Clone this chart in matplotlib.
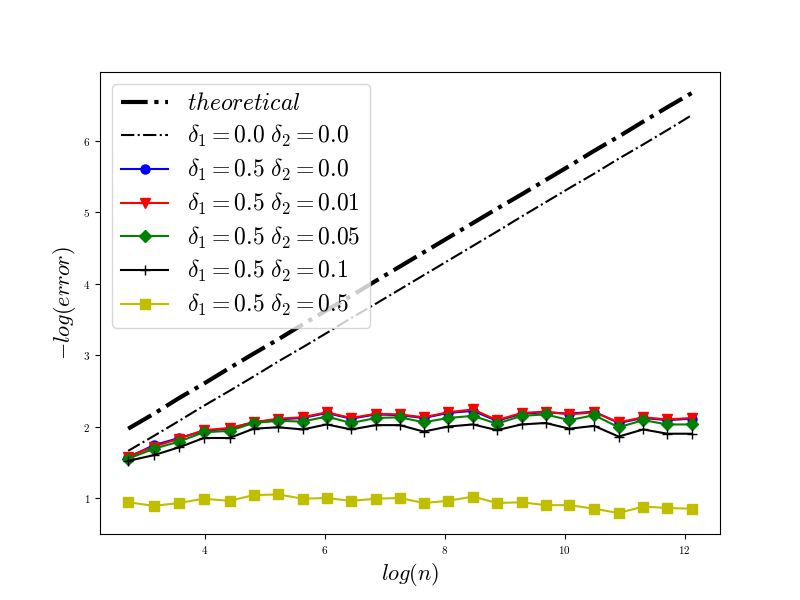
import numpy as np
import matplotlib
matplotlib.use('Agg')
import matplotlib.pyplot as plt

plt.rcParams['mathtext.fontset'] = 'cm'
plt.rcParams['font.family'] = 'serif'
plt.rcParams['font.serif'] = ['cmr10', 'DejaVu Serif']
plt.rcParams['axes.formatter.use_mathtext'] = True

log_n = [2.72, 3.15, 3.57, 3.98, 4.41, 4.81, 5.22, 5.63, 6.03, 6.44, 6.85, 7.25,
         7.65, 8.05, 8.47, 8.87, 9.28, 9.68, 10.08, 10.49, 10.90, 11.31, 11.71, 12.12]

theoretical = [1.97, 2.18, 2.40, 2.60, 2.82, 3.02, 3.22, 3.43, 3.63, 3.83, 4.04, 4.24,
               4.44, 4.64, 4.85, 5.05, 5.25, 5.45, 5.65, 5.86, 6.06, 6.27, 6.47, 6.67]
d00 = [1.66, 1.87, 2.08, 2.29, 2.50, 2.70, 2.91, 3.11, 3.31, 3.52, 3.72, 3.92,
       4.12, 4.32, 4.53, 4.73, 4.94, 5.14, 5.34, 5.54, 5.75, 5.95, 6.15, 6.36]
d05_00 = [1.57, 1.74, 1.84, 1.94, 1.97, 2.06, 2.10, 2.12, 2.19, 2.11, 2.17, 2.16,
          2.12, 2.19, 2.22, 2.08, 2.18, 2.20, 2.18, 2.21, 2.05, 2.12, 2.09, 2.11]
d05_01 = [1.58, 1.72, 1.83, 1.95, 1.98, 2.06, 2.11, 2.13, 2.20, 2.12, 2.18, 2.17,
          2.13, 2.20, 2.24, 2.09, 2.19, 2.21, 2.17, 2.20, 2.06, 2.13, 2.10, 2.12]
d05_05 = [1.55, 1.69, 1.79, 1.92, 1.94, 2.05, 2.08, 2.07, 2.14, 2.05, 2.12, 2.13,
          2.06, 2.12, 2.15, 2.04, 2.15, 2.17, 2.09, 2.16, 1.99, 2.09, 2.03, 2.03]
d05_1 = [1.52, 1.60, 1.71, 1.84, 1.84, 1.97, 1.99, 1.96, 2.03, 1.96, 2.02, 2.02,
         1.93, 2.00, 2.03, 1.95, 2.03, 2.05, 1.97, 2.01, 1.86, 1.96, 1.90, 1.90]
d05_5 = [0.94, 0.89, 0.93, 0.99, 0.96, 1.04, 1.05, 0.99, 1.00, 0.96, 0.99, 1.00,
         0.93, 0.96, 1.02, 0.93, 0.94, 0.90, 0.90, 0.85, 0.79, 0.88, 0.86, 0.85]

fig = plt.figure(figsize=(8, 6), dpi=100)
ax = fig.add_subplot(111)

ax.plot(log_n, theoretical, 'k-.', linewidth=3, label=r'$theoretical$')
ax.plot(log_n, d00, 'k-.', linewidth=1.5, label=r'$\delta_1 = 0.0\ \delta_2 = 0.0$')
ax.plot(log_n, d05_00, 'b-o', markersize=6.5, label=r'$\delta_1 = 0.5\ \delta_2 = 0.0$')
ax.plot(log_n, d05_01, 'r-v', markersize=6.5, label=r'$\delta_1 = 0.5\ \delta_2 = 0.01$')
ax.plot(log_n, d05_05, 'g-D', markersize=6.5, label=r'$\delta_1 = 0.5\ \delta_2 = 0.05$')
ax.plot(log_n, d05_1, 'k-+', markersize=6.5, label=r'$\delta_1 = 0.5\ \delta_2 = 0.1$')
ax.plot(log_n, d05_5, 'y-s', markersize=6.5, label=r'$\delta_1 = 0.5\ \delta_2 = 0.5$')

ax.set_xlabel(r'$log(n)$', fontsize=16)
ax.set_ylabel(r'$-log(error)$', fontsize=16)
ax.tick_params(labelsize=8)
ax.legend(loc='upper left', fontsize=17, labelspacing=0.33)

fig.savefig('out.png', dpi=100)
